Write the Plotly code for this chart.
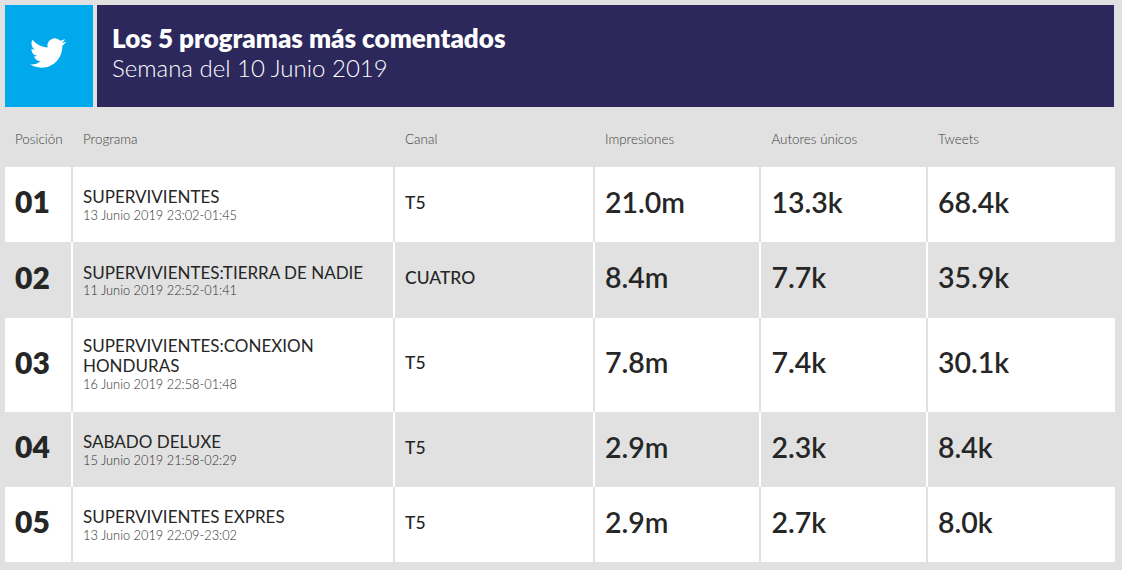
import plotly.graph_objects as go

# Datos de la tabla
TITULO = "Los 5 programas más comentados"
SUBTITULO = "Semana del 10 Junio 2019"
COLUMNAS = ["Posición", "Programa", "Canal", "Impresiones", "Autores únicos", "Tweets"]
posiciones = ["01", "02", "03", "04", "05"]
programas = ["SUPERVIVIENTES", "SUPERVIVIENTES:TIERRA DE NADIE",
             "SUPERVIVIENTES:CONEXION<br>HONDURAS", "SABADO DELUXE", "SUPERVIVIENTES EXPRES"]
horarios = ["13 Junio 2019 23:02-01:45", "11 Junio 2019 22:52-01:41",
            "16 Junio 2019 22:58-01:48", "15 Junio 2019 21:58-02:29",
            "13 Junio 2019 22:09-23:02"]
canales = ["T5", "CUATRO", "T5", "T5", "T5"]
impresiones = ["21.0m", "8.4m", "7.8m", "2.9m", "2.9m"]
autores = ["13.3k", "7.7k", "7.4k", "2.3k", "2.7k"]
tweets = ["68.4k", "35.9k", "30.1k", "8.4k", "8.0k"]

# Geometria en pixeles de la pagina
ANCHO, ALTO = 1122, 570
col_bordes = [(5, 71), (73, 393), (395, 593), (595, 759), (761, 926), (928, 1115)]
fila_bordes = [(167, 242), (242, 318), (318, 412), (412, 487), (487, 562)]
FUENTE = "Lato"
GRIS = "#e1e1e1"
NEGRO = "#262626"
AZUL = "#00a8ec"
MARINO = "#2c285c"

PAJARO = ("data:image/svg+xml;utf8,<svg xmlns='http://www.w3.org/2000/svg' viewBox='0 0 24 24'>"
          "<path fill='white' d='M23.953 4.57a10 10 0 01-2.825.775 4.958 4.958 0 002.163-2.723"
          "c-.951.555-2.005.959-3.127 1.184a4.92 4.92 0 00-8.384 4.482C7.69 8.095 4.067 6.13 1.64 3.162"
          "a4.822 4.822 0 00-.666 2.475c0 1.71.87 3.213 2.188 4.096a4.904 4.904 0 01-2.228-.616v.06"
          "a4.923 4.923 0 003.946 4.827 4.996 4.996 0 01-2.212.085 4.936 4.936 0 004.604 3.417"
          " 9.867 9.867 0 01-6.102 2.105c-.39 0-.779-.023-1.17-.067a13.995 13.995 0 007.557 2.209"
          "c9.053 0 13.998-7.496 13.998-13.985 0-.21 0-.42-.015-.63A9.935 9.935 0 0024 4.59z'/></svg>")


def rect(x0, x1, y0, y1, color):
    return dict(type="rect", xref="x", yref="y", x0=x0, x1=x1, y0=y0, y1=y1,
                fillcolor=color, line_width=0, layer="below")


def texto(fig, xs, ys, textos, size, color=NEGRO, weight=400):
    fig.add_trace(go.Scatter(x=xs, y=ys, text=textos, mode="text", textposition="middle right",
                             textfont=dict(family=FUENTE, size=size, color=color, weight=weight),
                             hoverinfo="skip", showlegend=False, cliponaxis=False))


fig = go.Figure()
formas = [rect(5, 93, 5, 107, AZUL), rect(97, 1114, 5, 107, MARINO)]

# Filas alternas: blancas con separador gris, grises con separador blanco
for i, (y0, y1) in enumerate(fila_bordes):
    if i % 2 == 0:
        formas.append(rect(5, 1115, y0, y1, "white"))
    for (x0, x1), (sig, _) in zip(col_bordes[:-1], col_bordes[1:]):
        formas.append(rect(x1, sig, y0, y1, GRIS if i % 2 == 0 else "white"))

centros = [(a + b) / 2 for a, b in fila_bordes]
x_texto = [15, 83, 405, 605, 771.5, 938]

# Cabecera
texto(fig, [112], [41], [TITULO], 26, "white", 800)
texto(fig, [112], [71], [SUBTITULO], 24, "white", 300)
texto(fig, x_texto, [141] * 6, COLUMNAS, 13.4, "#3f3f3f", 300)

# Columnas
texto(fig, [x_texto[0]] * 5, [c + 1 for c in centros], posiciones, 30, weight=800)
nombre_x, nombre_y, nombre_t, fecha_y = [], [], [], []
for c, nombre in zip(centros, programas):
    lineas = nombre.split("<br>")
    primera = c - 5.5 - 11.5 * (len(lineas) - 1)
    for n, linea in enumerate(lineas):
        nombre_x.append(x_texto[1])
        nombre_y.append(primera + 20 * n)
        nombre_t.append(linea)
    fecha_y.append(primera + 20 * (len(lineas) - 1) + 17.5)
texto(fig, nombre_x, nombre_y, nombre_t, 17)
texto(fig, [x_texto[1]] * 5, fecha_y, horarios, 12.8, "#2f2f2f", 300)
texto(fig, [x_texto[2]] * 5, centros, canales, 17.5, weight=500)
for x, valores in zip(x_texto[3:], [impresiones, autores, tweets]):
    texto(fig, [x] * 5, [c + 1 for c in centros], valores, 28.5, weight=600)

fig.update_layout(
    width=ANCHO, height=ALTO, margin=dict(l=0, r=0, t=0, b=0),
    paper_bgcolor=GRIS, plot_bgcolor=GRIS, shapes=formas,
    xaxis=dict(range=[0, ANCHO], visible=False, fixedrange=True),
    yaxis=dict(range=[ALTO, 0], visible=False, fixedrange=True),
    images=[dict(source=PAJARO, xref="x", yref="y", x=30, y=35, sizex=36, sizey=36,
                 sizing="contain", xanchor="left", yanchor="top", layer="above")],
)
fig.write_html("out.html", config={"displayModeBar": False},
               post_script="document.body.style.margin='0';document.body.style.overflow='hidden';")
